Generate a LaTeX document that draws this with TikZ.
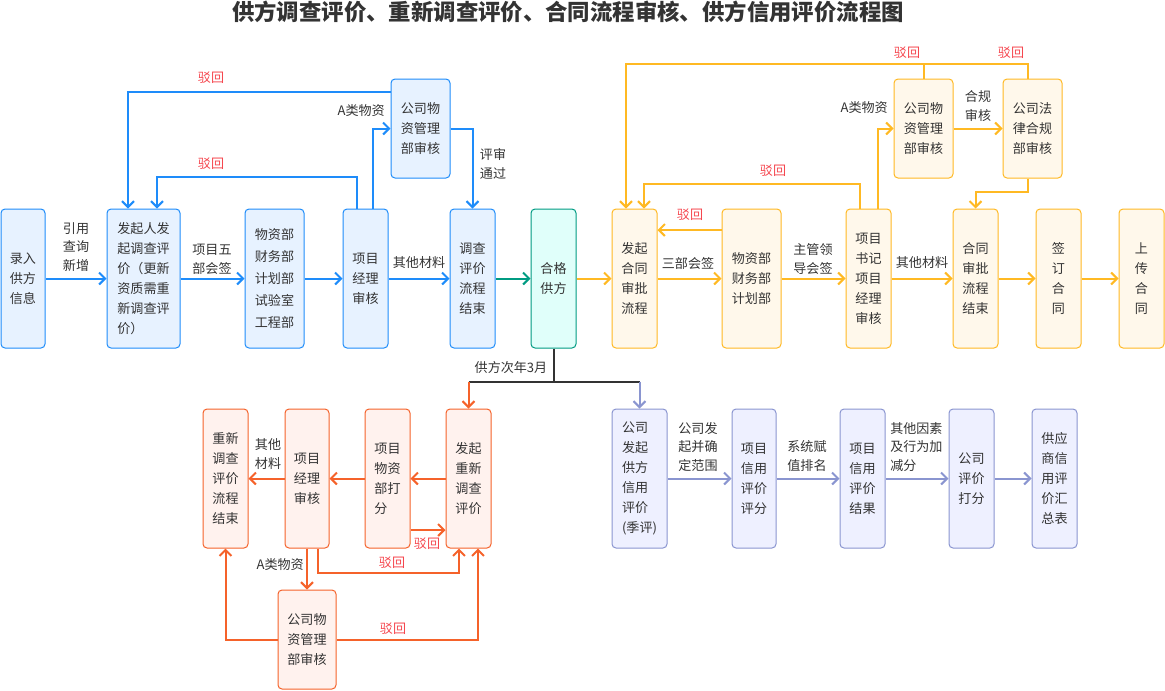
\documentclass[tikz,border=0pt]{standalone}
\usepackage{fontspec}
\setmainfont{Noto Sans CJK SC}
\usetikzlibrary{arrows.meta,calc}
\definecolor{txt}{HTML}{333333}
\definecolor{rejred}{HTML}{F5474F}
\definecolor{bS}{HTML}{1E8CFA}\definecolor{bF}{HTML}{E7F2FF}
\definecolor{tS}{HTML}{009B82}\definecolor{tF}{HTML}{E0FFFA}
\definecolor{yS}{HTML}{FFB923}\definecolor{yF}{HTML}{FFF8EB}
\definecolor{oS}{HTML}{F5622A}\definecolor{oF}{HTML}{FFF2EE}
\definecolor{pS}{HTML}{8A95D0}\definecolor{pF}{HTML}{EEF0FF}
\newcommand\mybox[7]{\node[#6, minimum width={(#4-#2)*0.75pt}, minimum height={(#5-#3)*0.75pt}] (#1) at ({(#2+#4)/2},{(#3+#5)/2}) {#7};}
\begin{document}
\begin{tikzpicture}[x=0.75pt,y=-0.75pt,
  basebox/.style={draw, rounded corners=3pt, line width=0.75pt, inner sep=0pt, align=center, text=txt, font=\fontsize{9.8}{15}\selectfont},
  bbox/.style={basebox, draw=bS, fill=bF},
  tbox/.style={basebox, draw=tS, fill=tF},
  ybox/.style={basebox, draw=yS, fill=yF},
  obox/.style={basebox, draw=oS, fill=oF},
  pbox/.style={basebox, draw=pS, fill=pF},
  conn/.style={line width=1.5pt},
  tip/.style={-{Straight Barb[length=4.5pt,width=9pt]}},
  barr/.style={conn, tip, draw=bS},
  tarr/.style={conn, tip, draw=tS},
  yarr/.style={conn, tip, draw=yS},
  yline/.style={conn, draw=yS},
  oarr/.style={conn, tip, draw=oS},
  parr/.style={conn, tip, draw=pS},
  darkline/.style={conn, draw=txt},
  lab/.style={font=\fontsize{9.8}{14}\selectfont, text=txt, align=center, inner sep=0pt},
  rej/.style={lab, text=rejred}]
\useasboundingbox (0,0) rectangle (1165,690);
\node[font=\fontsize{16.8}{18}\selectfont\bfseries, text=txt, inner sep=0pt] (title) at (568,12) {供方调查评价、重新调查评价、合同流程审核、供方信用评价流程图};
% blue row
\mybox{b1}{1}{209}{45}{348}{bbox}{录入\\供方\\信息}
\mybox{b2}{107}{209}{180}{348}{bbox,align=left}{发起人发\\起调查评\\价（更新\\资质需重\\新调查评\\价）}
\mybox{b3}{245}{209}{304}{348}{bbox,font=\fontsize{9.8}{16.5}\selectfont}{物资部\\财务部\\计划部\\试验室\\工程部}
\mybox{b4}{343}{209}{388}{348}{bbox}{项目\\经理\\审核}
\mybox{b5}{391}{79}{450}{178}{bbox}{公司物\\资管理\\部审核}
\mybox{b6}{450}{209}{495}{348}{bbox}{调查\\评价\\流程\\结束}
\mybox{t1}{531}{209}{576}{348}{tbox}{合格\\供方}
% yellow row
\mybox{y1}{612}{209}{657}{348}{ybox}{发起\\合同\\审批\\流程}
\mybox{y2}{722}{209}{781}{348}{ybox}{物资部\\财务部\\计划部}
\mybox{y3}{846}{209}{891}{348}{ybox}{项目\\书记\\项目\\经理\\审核}
\mybox{y4}{894}{79}{953}{178}{ybox}{公司物\\资管理\\部审核}
\mybox{y5}{1003}{79}{1062}{178}{ybox}{公司法\\律合规\\部审核}
\mybox{y6}{953}{209}{998}{348}{ybox}{合同\\审批\\流程\\结束}
\mybox{y7}{1036}{209}{1081}{348}{ybox}{签\\订\\合\\同}
\mybox{y8}{1119}{209}{1164}{348}{ybox}{上\\传\\合\\同}
% orange row
\mybox{o1}{203}{409}{248}{548}{obox}{重新\\调查\\评价\\流程\\结束}
\mybox{o2}{285}{409}{329}{548}{obox}{项目\\经理\\审核}
\mybox{o3}{365}{409}{410}{548}{obox,align=left}{项目\\物资\\部打\\分}
\mybox{o4}{446}{409}{491}{548}{obox}{发起\\重新\\调查\\评价}
\mybox{o5}{278}{590}{336}{689}{obox}{公司物\\资管理\\部审核}
% purple row
\mybox{p1}{612}{409}{667}{548}{pbox,align=left}{公司\\发起\\供方\\信用\\评价\\(季评)}
\mybox{p2}{732}{409}{776}{548}{pbox}{项目\\信用\\评价\\评分}
\mybox{p3}{840}{409}{885}{548}{pbox}{项目\\信用\\评价\\结果}
\mybox{p4}{949}{409}{994}{548}{pbox}{公司\\评价\\打分}
\mybox{p5}{1032}{409}{1077}{548}{pbox}{供应\\商信\\用评\\价汇\\总表}
% blue connectors
\draw[barr] (b1.east) -- (b2.west);
\draw[barr] (b2.east) -- (b3.west);
\draw[barr] (b3.east) -- (b4.west);
\draw[barr] (b4.east) -- (b6.west);
\draw[barr] ($(b4.north)+(7.5,0)$) |- (b5.west);
\draw[barr] (b5.east) -| (b6.north);
\draw[barr] ($(b5.west)+(0,-36.5)$) -| ($(b2.north)+(-15.5,0)$);
\draw[barr] ($(b4.north)+(-8.5,0)$) -- ++(0,-32) -| ($(b2.north)+(13.5,0)$);
\node[lab] (l1) at (76,247) {引用\\查询\\新增};
\node[lab] (l2) at (212,259) {项目五\\部会签};
\node[lab] (l3) at (419,263) {其他材料};
\node[lab, anchor=east] (l4) at (385,111) {A类物资};
\node[lab] (l5) at (493,164) {评审\\通过};
\node[rej] (r1) at (211,78) {驳回};
\node[rej] (r2) at (211,164) {驳回};
\draw[tarr] (b6.east) -- (t1.west);
\draw[yarr] (t1.east) -- (y1.west);
% split
\coordinate (jn) at ($(t1.south)+(0,33)$);
\draw[darkline] (t1.south) -- (jn);
\draw[darkline] (jn -| o4.north) -- (jn -| p1.north);
\draw[oarr] (jn -| o4.north) -- (o4.north);
\draw[parr] (jn -| p1.north) -- (p1.north);
\node[lab] (l6) at (511,368) {供方次年3月};
% yellow connectors
\draw[yarr] (y1.east) -- (y2.west);
\draw[yarr] ($(y2.west)+(0,-48.5)$) -- ($(y1.east)+(0,-48.5)$);
\draw[yarr] (y2.east) -- (y3.west);
\draw[yarr] ($(y3.north)+(-8.5,0)$) -- ++(0,-25) -| ($(y1.north)+(9.5,0)$);
\draw[yarr] ($(y3.north)+(9.5,0)$) |- (y4.west);
\draw[yarr] (y4.east) -- (y5.west);
\draw[yarr] ($(y5.south)+(-4.5,0)$) -- ++(0,13) -| (y6.north);
\draw[yarr] ($(y5.north)+(-4.5,0)$) -- ++(0,-15) -| ($(y1.north)+(-8.5,0)$);
\draw[yline] (y4.north) -- ++(0,-15);
\draw[yarr] (y3.east) -- (y6.west);
\draw[yarr] (y6.east) -- (y7.west);
\draw[yarr] (y7.east) -- (y8.west);
\node[lab] (l7) at (688,263) {三部会签};
\node[rej] (r3) at (690,215) {驳回};
\node[lab] (l8) at (813,259) {主管领\\导会签};
\node[rej] (r4) at (773,171) {驳回};
\node[lab, anchor=east] (l9) at (888,108) {A类物资};
\node[lab] (l10) at (978,106) {合规\\审核};
\node[rej] (r5) at (907,53) {驳回};
\node[rej] (r6) at (1011,53) {驳回};
\node[lab] (l11) at (922,263) {其他材料};
% orange connectors
\draw[oarr] (o4.west) -- (o3.east);
\draw[oarr] (o3.west) -- (o2.east);
\draw[oarr] (o2.west) -- (o1.east);
\draw[oarr] ($(o3.east)+(0,51.5)$) -- ($(o4.west)+(0,51.5)$);
\draw[oarr] ($(o2.south)+(11,0)$) -- ++(0,24) -| ($(o4.south)+(-9.5,0)$);
\draw[oarr] (o2.south) -- (o5.north);
\draw[oarr] (o5.west) -| (o1.south);
\draw[oarr] (o5.east) -| ($(o4.south)+(9.5,0)$);
\node[lab] (l12) at (268,454) {其他\\材料};
\node[rej] (r7) at (427,544) {驳回};
\node[rej] (r8) at (392,563) {驳回};
\node[lab, anchor=east] (l13) at (304,565) {A类物资};
\node[rej] (r9) at (393,629) {驳回};
% purple connectors
\draw[parr] (p1.east) -- (p2.west);
\draw[parr] (p2.east) -- (p3.west);
\draw[parr] (p3.east) -- (p4.west);
\draw[parr] (p4.east) -- (p5.west);
\node[lab] (l14) at (698,447) {公司发\\起并确\\定范围};
\node[lab] (l15) at (807,456) {系统赋\\值排名};
\node[lab, anchor=west, align=left] (l16) at (890,447) {其他因素\\及行为加\\减分};
\end{tikzpicture}
\end{document}
